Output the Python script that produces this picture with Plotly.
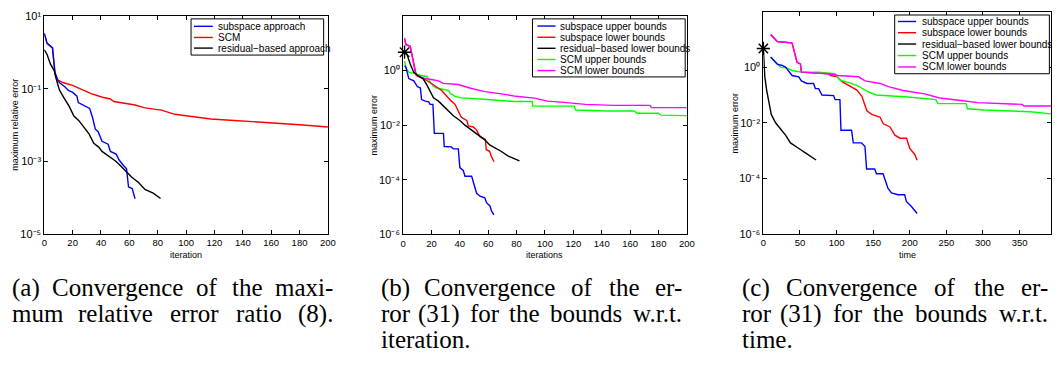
import plotly.graph_objects as go

W, H = 1064, 372

# ---------------- data ----------------
# panel (a): maximum relative error vs iteration
a_sub_x = [0, 2, 5.8, 7.5, 9.5, 11, 14.5, 17, 20, 23, 24, 29.6, 32, 34, 36, 38, 40.7, 45, 46.6, 50.7, 52.8, 55.8, 58, 59.4, 62, 64]
a_sub_y = [3.4, 1.8, 1.35, 0.3, 0.17, 0.145, 0.115, 0.091, 0.08, 0.063, 0.042, 0.032, 0.029, 0.0166, 0.0078, 0.0066, 0.0036, 0.003, 0.0019, 0.0016, 0.0011, 0.00078, 0.00063, 0.0002, 0.00018, 9.4e-5]
a_scm_x = [0, 2, 5.8, 7.5, 9.3, 13, 20, 27, 33, 41, 46.6, 49, 64, 71, 82.6, 92, 110.5, 117.5, 134, 157, 180, 200]
a_scm_y = [3.4, 1.8, 1.35, 0.26, 0.18, 0.15, 0.126, 0.093, 0.074, 0.059, 0.053, 0.045, 0.036, 0.030, 0.026, 0.020, 0.0166, 0.0149, 0.0135, 0.012, 0.0103, 0.0089]
a_res_x = [0, 2, 4.3, 7, 8.4, 10.7, 14, 17.4, 20.9, 24.4, 27.9, 31.4, 34.9, 38.4, 40.7, 45.4, 50, 53.6, 58, 61.7, 66.3, 71, 76.8, 82]
a_res_y = [1.2, 0.89, 0.49, 0.32, 0.19, 0.093, 0.056, 0.034, 0.018, 0.0134, 0.0089, 0.0059, 0.0032, 0.0025, 0.0019, 0.0014, 0.00105, 0.00078, 0.00051, 0.00037, 0.00027, 0.00017, 0.000135, 9.6e-5]

# panel (b): maximum error vs iterations
b_subU_x = [1, 2, 4, 7.5, 10, 12.2, 13, 15.6, 18, 19, 21, 22, 28.4, 29, 34, 35.4, 38.9, 40, 42.4, 43.6, 48.3, 49.5, 50.7, 51.8, 54.2, 57.6, 58.8, 61.2, 62.3, 64]
b_subU_y = [1.5, 1.32, 0.51, 0.42, 0.26, 0.23, 0.087, 0.076, 0.072, 0.058, 0.058, 0.005, 0.005, 0.00166, 0.0016, 0.00135, 0.00135, 0.00028, 0.00022, 0.000135, 0.000135, 8.3e-5, 4.9e-5, 3.2e-5, 2.5e-5, 2.2e-5, 1.45e-5, 1.1e-5, 7.2e-6, 5.2e-6]
b_subL_x = [1, 2, 5, 6.5, 7.5, 9.3, 15.6, 19, 23.7, 27, 30.7, 34, 36.6, 38.9, 41, 44.9, 46, 49.5, 51.8, 54.2, 56.5, 58, 58.6, 61, 62.1, 64]
b_subL_y = [15, 8.9, 7.7, 3.0, 1.5, 0.66, 0.47, 0.37, 0.25, 0.19, 0.114, 0.076, 0.058, 0.034, 0.0195, 0.0149, 0.0094, 0.0086, 0.0066, 0.0038, 0.0033, 0.003, 0.00126, 0.00111, 0.00075, 0.00046]
b_resL_x = [1, 2.8, 5, 7.5, 10.3, 14, 16.7, 19, 21.4, 24.9, 28.4, 32, 35.4, 40, 43.6, 48.3, 52.9, 57.6, 61, 65.6, 69, 73.8, 78.4, 82]
b_resL_y = [4.7, 3.9, 1.73, 0.87, 0.66, 0.51, 0.30, 0.17, 0.1, 0.076, 0.05, 0.033, 0.022, 0.0149, 0.01, 0.0066, 0.0044, 0.0029, 0.0019, 0.00145, 0.00111, 0.00075, 0.00059, 0.00049]
b_scmU_x = [1, 2.3, 4, 9.3, 12.2, 16.7, 19, 21.4, 24.9, 27.2, 32, 33, 36.6, 41, 48.3, 60, 68, 78.4, 91, 91.3, 120.6, 121.7, 144, 162.7, 165, 180, 181.6, 200]
b_scmU_y = [2.2, 1.15, 0.87, 0.76, 0.66, 0.61, 0.39, 0.26, 0.22, 0.21, 0.19, 0.15, 0.114, 0.1, 0.097, 0.087, 0.08, 0.074, 0.074, 0.05, 0.05, 0.036, 0.033, 0.033, 0.0275, 0.0275, 0.0234, 0.0224]
b_scmL_x = [1, 2, 5, 6.5, 7.5, 8.8, 11, 15.6, 20, 24.9, 28.4, 38.9, 48.3, 57.6, 69.3, 79.7, 92.5, 101.7, 111, 128.6, 148.4, 174, 175, 200]
b_scmL_y = [15.1, 8.9, 7.7, 3.0, 1.5, 0.76, 0.61, 0.51, 0.47, 0.42, 0.34, 0.31, 0.22, 0.17, 0.14, 0.114, 0.098, 0.076, 0.07, 0.058, 0.053, 0.053, 0.044, 0.044]
b_star_x = [1]
b_star_y = [4.7]

# panel (c): maximum error vs time
c_subU_x = [10, 18.9, 25.7, 30.3, 39.3, 48.3, 52, 59.6, 68.6, 71, 75.5, 80, 96, 98, 104.6, 106, 120.5, 122.8, 134, 138.8, 141, 152, 154.5, 163.5, 170.3, 175, 184, 193, 195.4, 202, 210]
c_subU_y = [2.3, 1.29, 1.15, 1.0, 0.5, 0.45, 0.32, 0.26, 0.26, 0.17, 0.17, 0.10, 0.095, 0.068, 0.068, 0.0054, 0.0054, 0.0019, 0.0019, 0.0014, 0.00022, 0.00022, 0.000148, 0.000148, 4.4e-5, 3e-5, 2.6e-5, 2.6e-5, 1.5e-5, 1e-5, 5.5e-6]
c_subL_x = [10, 19, 30, 39.3, 46, 50.6, 52, 88.8, 91.8, 101, 107.5, 118.7, 127.8, 134.6, 141.4, 148, 159.4, 163.9, 173, 179.7, 186.5, 195.6, 200, 206.9, 210]
c_subL_y = [15, 8.3, 7.9, 7.3, 1.5, 1.3, 0.66, 0.58, 0.5, 0.45, 0.30, 0.2, 0.15, 0.089, 0.027, 0.02, 0.0158, 0.0092, 0.0071, 0.0036, 0.0028, 0.0028, 0.0012, 0.00073, 0.00045]
c_resL_x = [0, 0.6, 2, 4.5, 7.7, 10.8, 16.7, 23.5, 30.3, 37, 43.8, 50.6, 57.4, 64.1, 70.9, 72]
c_resL_y = [4.7, 1.5, 0.45, 0.15, 0.052, 0.02, 0.01, 0.0062, 0.0036, 0.0019, 0.0014, 0.0011, 0.00083, 0.00063, 0.00049, 0.00046]
c_scmU_x = [10, 16.7, 23.5, 32.5, 39.3, 52.8, 75.5, 98, 104.6, 120.5, 129.6, 143.2, 154.5, 197.4, 235.7, 238.5, 276.8, 279, 301.6, 365, 393]
c_scmU_y = [2.3, 1.5, 1.0, 0.92, 0.76, 0.66, 0.66, 0.58, 0.34, 0.26, 0.21, 0.13, 0.10, 0.085, 0.068, 0.049, 0.049, 0.032, 0.029, 0.025, 0.021]
c_scmL_x = [10, 19, 30, 39.3, 46, 50.6, 52, 88.8, 102.4, 130, 139, 159.4, 170.7, 191, 220.4, 240.7, 270, 292.6, 353.5, 356, 393]
c_scmL_y = [15, 8.3, 7.9, 7.3, 1.5, 1.3, 0.66, 0.58, 0.5, 0.45, 0.32, 0.26, 0.2, 0.145, 0.11, 0.078, 0.063, 0.053, 0.046, 0.04, 0.04]
c_star_x = [0]
c_star_y = [4.7]

names_a = ["subspace approach", "SCM", "residual\u2212based approach"]
names_bc = ["subspace upper bounds", "subspace lower bounds", "residual\u2212based lower bounds",
            "SCM upper bounds", "SCM lower bounds"]
x_titles = ["iteration", "iterations", "time"]
y_titles = ["maximum relative error", "maximum error", "maximum error"]
a_yticks = [1e-5, 1e-3, 1e-1, 10]
a_yticktext = ["10\u207b\u2075", "10\u207b\u00b3", "10\u207b\u00b9", "10\u00b9"]
bc_yticks = [1e-6, 1e-4, 1e-2, 1]
bc_yticktext = ["10\u207b\u2076", "10\u207b\u2074", "10\u207b\u00b2", "10\u2070"]
ab_xticks = list(range(0, 201, 20))
c_xticks = list(range(0, 351, 50))

captions = [
    ["(a) Convergence of the maxi-", "mum relative error ratio (8)."],
    ["(b) Convergence of the er-", "ror (31) for the bounds w.r.t.", "iteration."],
    ["(c) Convergence of the er-", "ror (31) for the bounds w.r.t.", "time."],
]

BLUE, RED, BLACK, GREEN, MAG = "#0000ff", "#ff0000", "#000000", "#00ff00", "#ff00ff"

# ---------------- layout helpers ----------------
def px2x(p):
    return p / W

def py2y(p):
    return 1 - p / H

# axes boxes in pixels (left, right, top, bottom)
boxes = [(41.7, 328.3, 10.7, 235.7), (404.3, 691.0, 10.3, 236.0), (768.3, 1059.0, 5.7, 235.7)]

fig = go.Figure()

def add_line(x, y, color, name, k):
    fig.add_trace(go.Scatter(x=x, y=y, mode="lines", name=name, showlegend=False,
                             line=dict(color=color, width=1.4),
                             xaxis="x" if k == 1 else f"x{k}", yaxis="y" if k == 1 else f"y{k}"))

add_line(a_scm_x, a_scm_y, RED, names_a[1], 1)
add_line(a_sub_x, a_sub_y, BLUE, names_a[0], 1)
add_line(a_res_x, a_res_y, BLACK, names_a[2], 1)

add_line(b_scmU_x, b_scmU_y, GREEN, names_bc[3], 2)
add_line(b_subL_x, b_subL_y, RED, names_bc[1], 2)
add_line(b_scmL_x, b_scmL_y, MAG, names_bc[4], 2)
add_line(b_subU_x, b_subU_y, BLUE, names_bc[0], 2)
add_line(b_resL_x, b_resL_y, BLACK, names_bc[2], 2)

add_line(c_subL_x, c_subL_y, RED, names_bc[1], 3)
add_line(c_scmU_x, c_scmU_y, GREEN, names_bc[3], 3)
add_line(c_scmL_x, c_scmL_y, MAG, names_bc[4], 3)
add_line(c_subU_x, c_subU_y, BLUE, names_bc[0], 3)
add_line(c_resL_x, c_resL_y, BLACK, names_bc[2], 3)

for sx, sy, k in [(b_star_x, b_star_y, 2), (c_star_x, c_star_y, 3)]:
    fig.add_trace(go.Scatter(x=sx, y=sy, mode="markers", showlegend=False, cliponaxis=False,
                             marker=dict(symbol="asterisk-open", size=11, color="black",
                                         line=dict(color="black", width=1.4)),
                             xaxis=f"x{k}", yaxis=f"y{k}"))

axfont = dict(family="Liberation Sans, Arial, sans-serif", size=10, color="black")
common = dict(showline=True, linecolor="black", linewidth=1, mirror="ticks", ticks="inside",
              ticklen=4, tickcolor="black", showgrid=False, zeroline=False)

layout = dict(width=W, height=H, margin=dict(l=0, r=0, t=0, b=0),
              paper_bgcolor="white", plot_bgcolor="white", showlegend=False)
xranges = [[0, 200], [0, 200], [0, 393]]
xtv = [ab_xticks, ab_xticks, c_xticks]
yranges = [[-5, 1], [-6, 2], [-6, 2]]
ytv = [(a_yticks, a_yticktext), (bc_yticks, bc_yticktext), (bc_yticks, bc_yticktext)]
for i, (l, r, t, b) in enumerate(boxes):
    k = "" if i == 0 else str(i + 1)
    layout["xaxis" + k] = dict(domain=[px2x(l), px2x(r)], range=xranges[i], tickvals=xtv[i],
                               anchor="y" + k, tickfont=dict(axfont, size=9.5), **common)
    layout["yaxis" + k] = dict(domain=[py2y(b), py2y(t)], type="log", range=yranges[i],
                               tickvals=ytv[i][0], ticktext=ytv[i][1], anchor="x" + k,
                               tickfont=dict(axfont, size=11), **common)
fig.update_layout(**layout)

shapes, annos = [], []
# axis titles
for i, (l, r, t, b) in enumerate(boxes):
    annos.append(dict(x=px2x((l + r) / 2), y=py2y(257), xref="paper", yref="paper",
                      text=x_titles[i], showarrow=False, font=dict(axfont, size=9),
                      xanchor="center", yanchor="middle"))
    annos.append(dict(x=px2x(l - 29), y=py2y((t + b) / 2), xref="paper", yref="paper",
                      text=y_titles[i], showarrow=False, font=dict(axfont, size=9),
                      textangle=-90, xanchor="center", yanchor="middle"))

# legends (box px: left, right, top, bottom; line start, line end, text start; row centers)
legends = [
    (names_a, [BLUE, RED, BLACK], (190, 324, 13.3, 50.7), (193, 212, 215), [21, 32.5, 43.5]),
    (names_bc, [BLUE, RED, BLACK, GREEN, MAG], (535, 689.3, 13.3, 73.3), (540, 558.3, 560.7),
     [20.7, 32.3, 43.7, 55.3, 66.7]),
    (names_bc, [BLUE, RED, BLACK, GREEN, MAG], (901, 1057.3, 9.3, 70), (904.3, 922.7, 926.7),
     [16, 27.6, 39.3, 51.2, 63]),
]
for names, cols, (l, r, t, b), (ls, le, ts), rows in legends:
    shapes.append(dict(type="rect", xref="paper", yref="paper", x0=px2x(l), x1=px2x(r),
                       y0=py2y(b), y1=py2y(t), line=dict(color="black", width=1),
                       fillcolor="white", layer="above"))
    for nm, c, ry in zip(names, cols, rows):
        shapes.append(dict(type="line", xref="paper", yref="paper", x0=px2x(ls), x1=px2x(le),
                           y0=py2y(ry), y1=py2y(ry), line=dict(color=c, width=1.4), layer="above"))
        annos.append(dict(x=px2x(ts), y=py2y(ry), xref="paper", yref="paper", text=nm,
                          showarrow=False, font=dict(axfont, size=10), xanchor="left",
                          yanchor="middle"))

# captions with justified lines (Times-metric advance widths, em units)
TW = {'a': .444, 'b': .5, 'c': .444, 'd': .5, 'e': .444, 'f': .333, 'g': .5, 'h': .5, 'i': .278,
      'j': .278, 'k': .5, 'l': .278, 'm': .778, 'n': .5, 'o': .5, 'p': .5, 'q': .5, 'r': .333,
      's': .389, 't': .278, 'u': .5, 'v': .5, 'w': .722, 'x': .5, 'y': .5, 'z': .444, 'C': .667,
      '(': .333, ')': .333, '.': .25, '-': .333, ' ': .25}
CAP_FS = 25
cap_font = dict(family="Liberation Serif, Times New Roman, serif", size=CAP_FS, color="black")

def wwidth(s):
    return sum(TW.get(ch, .5) for ch in s) * CAP_FS

cap_box = [(7, 335), (380, 688), (745, 1058)]
line_y = [291, 318, 345]
for ci, lines in enumerate(captions):
    l, r = cap_box[ci]
    for li, text in enumerate(lines):
        y = py2y(line_y[li])
        last = li == len(lines) - 1
        words = text.split(" ")
        if (last and ci > 0) or len(words) == 1:
            annos.append(dict(x=px2x(l), y=y, xref="paper", yref="paper", text=text,
                              showarrow=False, font=cap_font, xanchor="left", yanchor="middle"))
            continue
        ws = [wwidth(w) for w in words]
        gap = (r - l - sum(ws)) / (len(words) - 1)
        pos = l
        for wi, (w, wd) in enumerate(zip(words, ws)):
            if wi == 0:
                ax, xa = l, "left"
            elif wi == len(words) - 1:
                ax, xa = r, "right"
            else:
                ax, xa = pos + wd / 2, "center"
            annos.append(dict(x=px2x(ax), y=y, xref="paper", yref="paper", text=w,
                              showarrow=False, font=cap_font, xanchor=xa, yanchor="middle"))
            pos += wd + gap

fig.update_layout(shapes=shapes, annotations=annos)
fig.write_html("out.html")
